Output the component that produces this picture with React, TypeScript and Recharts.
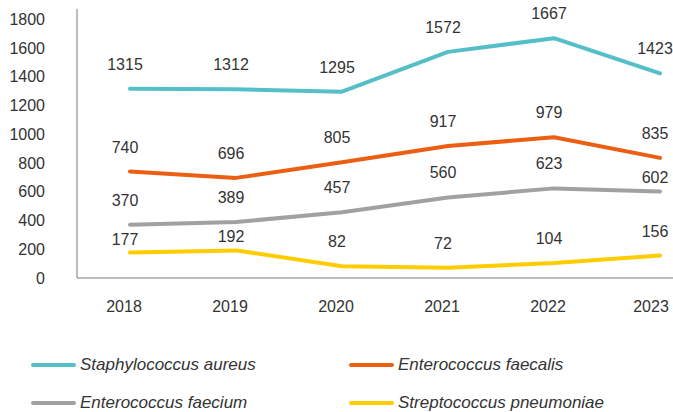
import { LineChart, Line, XAxis, YAxis, LabelList } from 'recharts'

const years = ['2018', '2019', '2020', '2021', '2022', '2023']
const staphAureus = [1315, 1312, 1295, 1572, 1667, 1423]
const entFaecalis = [740, 696, 805, 917, 979, 835]
const entFaecium = [370, 389, 457, 560, 623, 602]
const strepPneumoniae = [177, 192, 82, 72, 104, 156]
const yTicks = [0, 200, 400, 600, 800, 1000, 1200, 1400, 1600, 1800]

const series = [
  { key: 'sa', name: 'Staphylococcus aureus', values: staphAureus, color: '#55BFC7' },
  { key: 'efs', name: 'Enterococcus faecalis', values: entFaecalis, color: '#EC5E12' },
  { key: 'efm', name: 'Enterococcus faecium', values: entFaecium, color: '#A3A0A0' },
  { key: 'sp', name: 'Streptococcus pneumoniae', values: strepPneumoniae, color: '#FFCC00' },
]

const data = years.map((year, i) => {
  const row: Record<string, string | number> = { year }
  series.forEach((s) => { row[s.key] = s.values[i] })
  return row
})

const font = '"Liberation Sans", Arial, sans-serif'
const textColor = '#333333'
const axisColor = '#A6A6A6'

const CHART_H = 330
const MARGIN = { top: 9, right: 0, bottom: 9, left: 0 }
const X_AXIS_H = 43
const Y_MAX = 1870
const plotH = CHART_H - MARGIN.top - MARGIN.bottom - X_AXIS_H
const toPx = (v: number) => MARGIN.top + plotH * (1 - v / Y_MAX)

// label sits above its point; pulled down close to the line when the series above would run through it
const makeLabel = (seriesIdx: number) => (p: any) => {
  let y = p.y - 19
  const above = series[seriesIdx - 1]
  if (above && p.index != null) {
    const aboveY = toPx(above.values[p.index])
    if (aboveY > y - 16) y = p.y - 8
  }
  return (
    <text x={p.x - 5} y={y} textAnchor="middle" fill={textColor} fontSize={16} fontFamily={font}>
      {p.value}
    </text>
  )
}

export default function App() {
  return (
    <div style={{ position: 'absolute', left: 0, top: 0, width: 673, height: 412, background: '#fff', fontFamily: font }}>
      <LineChart width={673} height={CHART_H} data={data} margin={MARGIN}>
        <XAxis
          dataKey="year"
          padding={{ left: 53, right: 13 }}
          axisLine={{ stroke: axisColor, strokeWidth: 1.5 }}
          tickLine={false}
          tickSize={0}
          tickMargin={23}
          height={X_AXIS_H}
          tick={{ fontSize: 16, fill: textColor, fontFamily: font, dx: -6 }}
        />
        <YAxis
          domain={[0, Y_MAX]}
          ticks={yTicks}
          width={77}
          axisLine={{ stroke: axisColor, strokeWidth: 1.5 }}
          tickLine={false}
          tickSize={0}
          tickMargin={32}
          tick={{ fontSize: 16, fill: textColor, fontFamily: font }}
        />
        {series.map((s, si) => (
          <Line key={s.key} dataKey={s.key} name={s.name} stroke={s.color} strokeWidth={4}
            strokeLinecap="round" strokeLinejoin="round" dot={false} isAnimationActive={false}>
            <LabelList dataKey={s.key} content={makeLabel(si)} />
          </Line>
        ))}
      </LineChart>
      <div style={{ position: 'absolute', left: 31, top: 352, display: 'grid', gridTemplateColumns: '318px 280px', rowGap: 12 }}>
        {series.map((s) => (
          <div key={s.key} style={{ display: 'flex', alignItems: 'center', height: 26 }}>
            <span style={{ width: 45, height: 4, borderRadius: 2, background: s.color, marginRight: 4 }} />
            <span style={{ fontStyle: 'italic', fontSize: 17, color: textColor }}>{s.name}</span>
          </div>
        ))}
      </div>
    </div>
  )
}
